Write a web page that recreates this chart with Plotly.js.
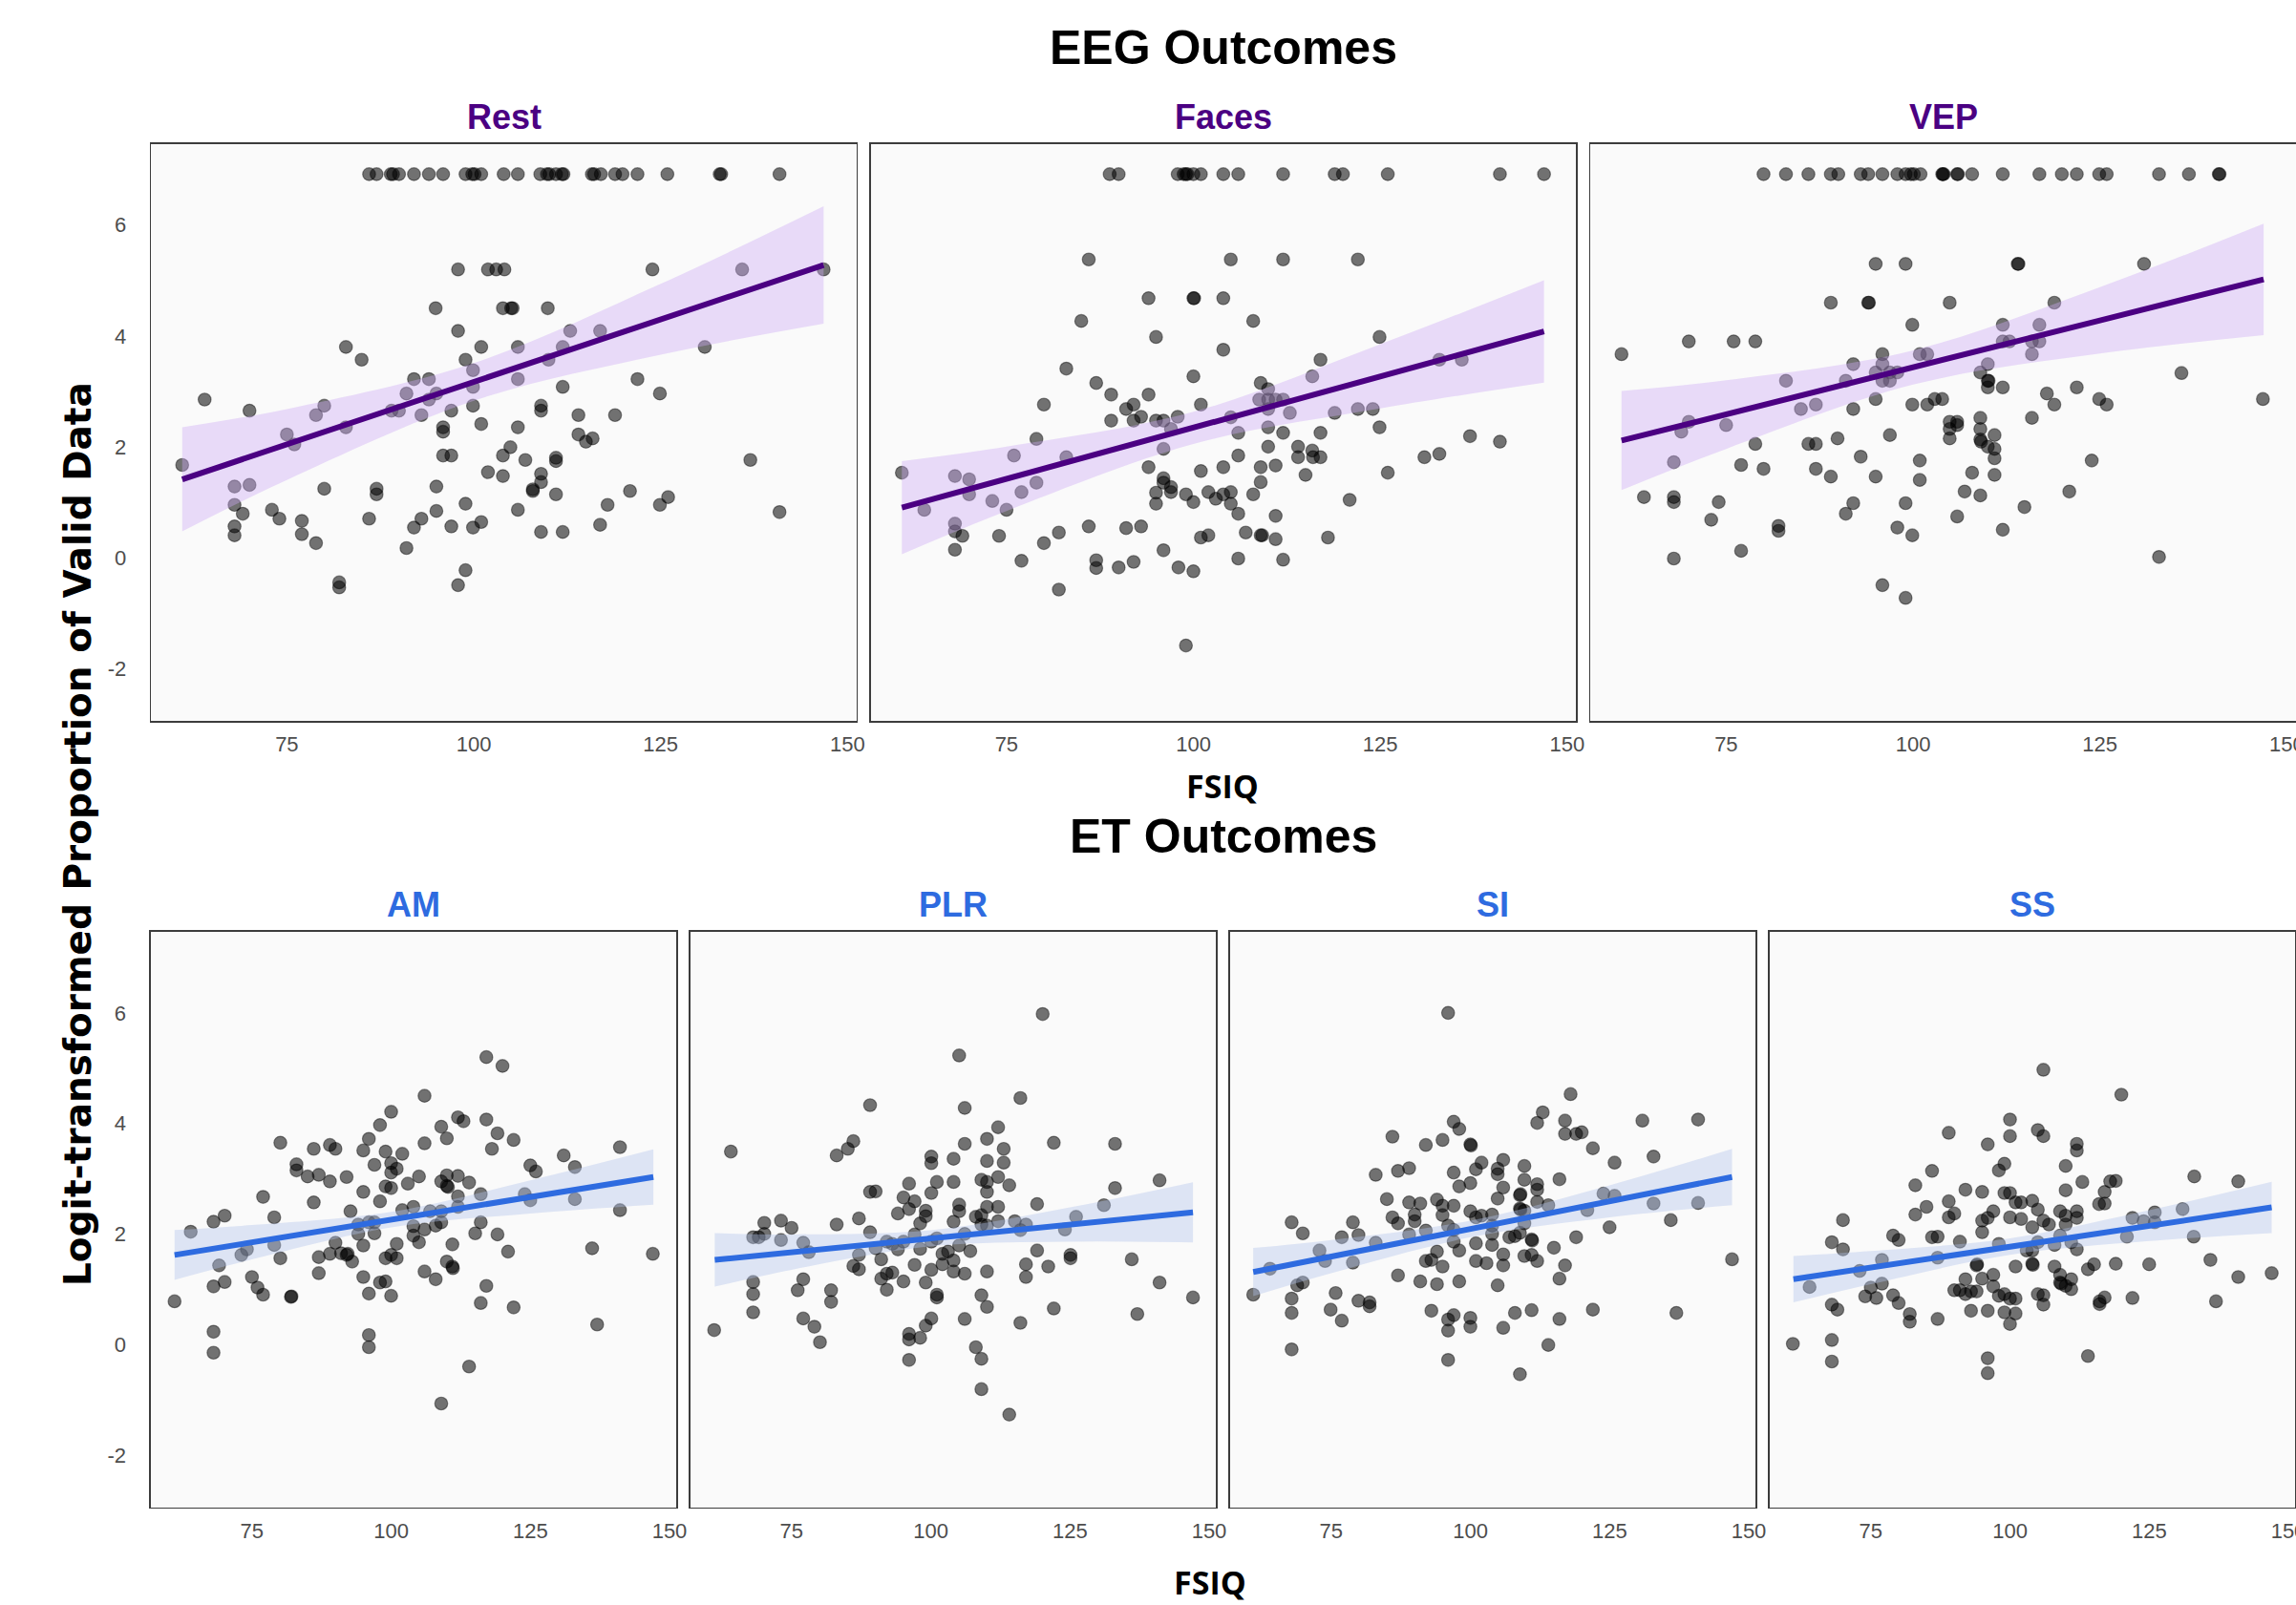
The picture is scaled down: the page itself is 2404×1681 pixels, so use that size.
<!DOCTYPE html>
<html><head><meta charset="utf-8">
<script src="https://cdn.plot.ly/plotly-3.0.1.min.js"></script>
<style>html,body{margin:0;padding:0;background:#fff;} #chart{width:2404px;height:1681px;}</style>
</head><body><div id="chart"></div>
<script>
// ---------------- DATA (FSIQ, logit-transformed proportion of valid data) ----------------
const xTickVals = [75, 100, 125, 150];
const yTickVals = [-2, 0, 2, 4, 6];

const restPts = [[86.0,6.92],[87.0,6.92],[88.9,6.92],[89.2,6.92],[90.0,6.92],[92.0,6.92],[94.0,6.92],[95.9,6.92],[98.9,6.92],[99.8,6.92],[100.1,6.92],[101.0,6.92],[104.0,6.92],[105.9,6.92],[108.9,6.92],[109.8,6.92],[110.1,6.92],[111.0,6.92],[111.8,6.92],[112.0,6.92],[115.8,6.92],[116.1,6.92],[117.0,6.92],[118.9,6.92],[119.9,6.92],[121.9,6.92],[125.9,6.92],[132.9,6.92],[133.1,6.92],[140.9,6.92],
[97.9,5.20],[101.9,5.20],[103.0,5.20],[104.1,5.20],[123.9,5.20],[135.9,5.20],[146.8,5.20],
[94.9,4.50],[103.9,4.50],[105.0,4.50],[105.2,4.50],[109.9,4.50],
[97.9,4.09],[112.9,4.09],[116.9,4.09],
[82.9,3.80],[101.0,3.80],[105.9,3.80],[111.9,3.80],[130.9,3.80],
[85.0,3.57],[98.9,3.57],[110.0,3.57],[99.9,3.38],
[92.0,3.22],[94.0,3.22],[105.9,3.22],[121.9,3.22],
[111.9,3.08],[99.9,3.08],
[91.0,2.96],[95.0,2.96],[124.9,2.96],
[64.0,2.85],[94.0,2.85],
[80.0,2.74],[99.9,2.74],[109.0,2.74],
[70.0,2.65],[89.0,2.65],[90.0,2.65],[97.0,2.65],[109.0,2.65],
[78.9,2.57],[93.0,2.57],[114.0,2.57],[118.9,2.57],
[101.0,2.41],[82.9,2.35],[95.9,2.35],[105.9,2.35],[95.9,2.27],[75.0,2.22],[114.0,2.22],[115.9,2.15],[76.0,2.04],[115.0,2.09],[104.9,1.99],
[95.9,1.84],[97.0,1.84],[103.9,1.84],[111.0,1.80],[111.0,1.74],[106.9,1.76],[137.0,1.76],[61.0,1.67],
[101.9,1.54],[103.9,1.47],[109.0,1.51],[109.0,1.36],
[68.0,1.28],[70.0,1.31],[95.0,1.28],[80.0,1.24],[87.0,1.24],[87.0,1.14],[107.9,1.23],[107.9,1.20],[120.9,1.20],[111.0,1.14],[126.0,1.09],
[124.9,0.95],[68.0,0.95],[98.9,0.97],[117.9,0.95],
[69.1,0.79],[73.0,0.86],[74.0,0.70],[95.0,0.84],[105.9,0.86],[140.9,0.82],
[86.0,0.70],[93.0,0.70],[77.0,0.66],[101.0,0.64],
[68.0,0.56],[92.0,0.54],[97.0,0.56],[99.9,0.54],[116.9,0.59],
[68.0,0.40],[77.0,0.42],[109.0,0.46],[111.9,0.46],
[78.9,0.26],[91.0,0.17],[98.9,-0.23],[82.0,-0.45],[82.0,-0.54],[97.9,-0.50]];

const facesPts = [[88.8,6.92],[90.0,6.92],[97.9,6.92],[98.7,6.92],[99.0,6.92],[99.2,6.92],[100.0,6.92],[101.0,6.92],[104.0,6.92],[106.0,6.92],[112.0,6.92],[118.9,6.92],[120.0,6.92],[126.0,6.92],[141.0,6.92],[146.9,6.92],
[86.0,5.38],[105.0,5.38],[112.0,5.38],[122.0,5.38],
[94.0,4.68],[100.0,4.68],[100.1,4.68],[104.0,4.68],
[85.0,4.27],[108.0,4.27],[95.0,3.98],[124.9,3.98],[104.0,3.75],
[117.0,3.57],[132.9,3.57],[135.9,3.57],[83.0,3.41],[100.0,3.27],[115.9,3.27],
[87.0,3.15],[109.0,3.15],[110.0,3.04],[89.0,2.94],[94.0,2.94],
[108.8,2.85],[110.0,2.85],[111.0,2.85],[112.0,2.85],
[80.0,2.76],[92.0,2.76],[101.0,2.76],
[91.0,2.68],[110.0,2.68],[122.0,2.68],[124.0,2.68],
[112.9,2.61],[118.9,2.61],[93.0,2.54],[105.0,2.53],[97.9,2.54],
[89.0,2.47],[92.0,2.47],[95.0,2.47],[96.0,2.47],
[97.0,2.32],[124.9,2.35],[110.0,2.35],
[106.0,2.25],[112.0,2.25],[117.0,2.25],[137.0,2.19],[79.0,2.14],[141.0,2.09],
[96.0,1.96],[110.0,2.00],[114.0,2.00],[115.9,1.93],
[76.0,1.84],[83.0,1.81],[106.0,1.84],[114.0,1.81],[116.0,1.81],[117.0,1.81],[130.9,1.81],[132.9,1.87],
[94.0,1.63],[104.0,1.63],[109.0,1.63],[111.0,1.66],[101.0,1.56],
[61.0,1.53],[68.1,1.47],[70.0,1.41],[115.0,1.49],[126.0,1.53],
[96.0,1.43],[79.0,1.35],[109.0,1.36],[96.0,1.35],[97.0,1.27],[97.0,1.18],[95.0,1.17],[77.0,1.18],[70.0,1.14],
[99.0,1.14],[104.0,1.14],[105.0,1.18],[108.0,1.14],[103.0,1.06],[102.0,1.18],[120.9,1.04],[73.1,1.02],[100.0,1.00],[95.0,0.97],[105.0,0.97],
[75.0,0.86],[64.0,0.86],[106.0,0.79],[111.0,0.75],
[68.1,0.61],[86.0,0.56],[91.0,0.53],[93.0,0.56],
[68.1,0.47],[69.1,0.39],[74.0,0.39],[82.0,0.45],[107.0,0.45],[109.0,0.40],[109.2,0.40],[101.0,0.36],[102.0,0.40],[111.0,0.33],[118.0,0.36],
[80.0,0.26],[68.1,0.14],[96.0,0.13],
[77.0,-0.06],[87.0,-0.05],[87.0,-0.19],[90.0,-0.18],[92.0,-0.08],[98.0,-0.18],[100.0,-0.25],[106.0,-0.02],[112.0,-0.04],
[82.0,-0.58],[99.0,-1.59]];

const vepPts = [[80.0,6.92],[83.0,6.92],[86.0,6.92],[89.0,6.92],[90.0,6.92],[93.0,6.92],[94.0,6.92],[95.9,6.92],[97.9,6.92],[99.0,6.92],[99.7,6.92],[100.1,6.92],[101.0,6.92],[103.9,6.92],[104.0,6.92],[104.1,6.92],[105.9,6.92],[106.0,6.92],[107.9,6.92],[112.0,6.92],[116.9,6.92],[119.9,6.92],[121.9,6.92],[124.9,6.92],[125.9,6.92],[132.9,6.92],[136.9,6.92],[140.9,6.92],[141.0,6.92],
[95.0,5.30],[99.0,5.30],[114.0,5.30],[114.1,5.30],[130.9,5.30],
[89.0,4.60],[94.0,4.60],[94.1,4.60],[104.9,4.60],[118.9,4.60],
[99.9,4.20],[112.0,4.20],[116.9,4.20],
[70.0,3.90],[76.0,3.90],[78.9,3.90],[112.0,3.90],[112.9,3.90],[115.9,3.90],[116.9,3.90],
[61.0,3.67],[95.9,3.67],[100.9,3.67],[101.9,3.67],[115.9,3.67],
[92.0,3.49],[95.9,3.49],[110.0,3.49],
[95.0,3.34],[96.9,3.34],[97.9,3.34],[109.0,3.34],[135.9,3.33],
[83.0,3.19],[91.0,3.19],[95.9,3.19],[96.9,3.19],[110.0,3.19],[110.1,3.19],
[110.0,3.07],[112.0,3.07],[121.9,3.07],[117.9,2.96],
[95.0,2.86],[102.9,2.86],[103.9,2.86],[124.9,2.86],[146.8,2.86],
[99.9,2.76],[101.9,2.76],[118.9,2.76],[125.9,2.76],[85.0,2.68],[87.0,2.76],[92.0,2.68],
[70.0,2.45],[115.9,2.52],[104.9,2.45],[105.9,2.45],[104.9,2.32],[105.9,2.39],[75.0,2.39],[69.0,2.27],[109.0,2.52],[109.0,2.32],
[104.9,2.15],[96.9,2.21],[89.9,2.15],[109.0,2.13],[109.1,2.09],[110.9,2.21],[110.9,1.96],[110.0,2.00],
[86.0,2.05],[87.0,2.05],[78.9,2.05],
[93.0,1.82],[110.9,1.79],[100.9,1.75],[123.9,1.75],[68.0,1.72],[77.0,1.67],[80.0,1.60],[87.0,1.60],
[107.9,1.53],[110.9,1.49],[89.0,1.46],[95.0,1.46],[100.9,1.40],
[106.9,1.19],[120.9,1.19],[109.0,1.12],
[64.0,1.09],[68.0,1.09],[68.0,1.00],[74.0,1.00],[92.0,0.98],[99.0,0.98],[114.9,0.91],
[91.0,0.79],[105.9,0.74],[73.0,0.68],[82.0,0.57],[82.0,0.48],[97.9,0.54],[112.0,0.50],[99.9,0.40],
[77.0,0.12],[68.0,-0.02],[132.9,0.01],[95.9,-0.50],[99.0,-0.73]];

const amPts = [[117.1,5.20],[120.0,5.04],[106.0,4.50],[100.0,4.21],[98.0,3.97],[112.0,4.11],[113.0,4.04],[117.1,4.07],[109.0,3.94],[119.1,3.82],[110.0,3.73],[96.0,3.72],[122.0,3.70],[80.1,3.65],[106.0,3.64],
[86.1,3.54],[89.0,3.61],[90.0,3.54],[95.0,3.51],[99.0,3.49],[102.0,3.45],[118.1,3.54],[131.0,3.42],[141.1,3.57],
[97.0,3.25],[100.0,3.28],[125.0,3.24],[133.0,3.21],[83.0,3.26],[83.0,3.15],[101.0,3.18],[100.0,3.11],
[85.0,3.04],[87.0,3.07],[92.0,3.03],[105.0,3.04],[110.0,3.06],[112.0,3.05],[126.0,3.13],
[89.0,2.95],[95.0,2.76],[99.0,2.86],[100.0,2.83],[103.0,2.91],[109.0,2.95],[110.0,2.87],[110.2,2.85],[114.0,2.93],
[77.0,2.67],[86.1,2.57],[98.0,2.59],[116.1,2.72],[112.0,2.68],[124.0,2.72],[125.0,2.61],[133.0,2.63],
[92.7,2.41],[102.0,2.43],[104.0,2.49],[107.0,2.41],[109.0,2.41],[112.0,2.49],[141.1,2.43],
[70.1,2.33],[68.1,2.22],[79.0,2.30],[94.1,2.17],[96.0,2.21],[97.0,2.21],[104.0,2.14],[106.0,2.08],[108.0,2.15],[109.0,2.21],[116.1,2.21],
[64.0,2.04],[94.1,2.00],[97.0,2.01],[115.1,2.01],[119.1,1.99],[104.0,1.97],[105.0,1.85],
[90.0,1.84],[95.0,1.79],[101.0,1.82],[111.0,1.81],[79.0,1.80],[74.1,1.72],[73.1,1.62],
[91.0,1.65],[92.0,1.62],[92.2,1.64],[93.0,1.50],[89.0,1.64],[87.0,1.58],[99.0,1.56],[100.0,1.62],[101.0,1.56],[80.1,1.56],[121.0,1.68],[136.1,1.74],[147.0,1.64],
[69.1,1.43],[110.0,1.50],[111.0,1.41],[111.1,1.38],[87.0,1.29],[106.0,1.32],[108.0,1.18],[95.0,1.22],[98.0,1.12],[99.0,1.14],[75.0,1.22],
[70.1,1.13],[68.1,1.05],[76.0,1.03],[77.0,0.90],[82.0,0.86],[82.1,0.87],[96.0,0.92],[100.0,0.88],[117.1,1.06],[116.1,0.75],[122.0,0.67],[61.1,0.78],
[137.0,0.36],[68.1,0.23],[68.1,-0.15],[96.0,0.17],[96.0,-0.05],[114.0,-0.40],[109.0,-1.07]];

const plrPts = [[120.1,5.98],[105.1,5.23],[116.1,4.46],[89.1,4.33],[106.1,4.28],[112.1,3.93],[110.1,3.72],[113.1,3.54],[86.1,3.68],[85.1,3.54],[83.1,3.42],[64.1,3.49],[106.1,3.63],[122.1,3.65],[133.1,3.63],
[100.1,3.40],[100.1,3.28],[104.1,3.36],[110.1,3.32],[113.1,3.29],
[96.1,2.91],[101.1,2.94],[104.1,2.94],[109.1,2.98],[110.1,2.94],[112.1,3.03],[114.1,2.88],[133.1,2.83],[141.1,2.97],
[89.1,2.76],[90.1,2.77],[100.1,2.74],[110.1,2.76],[95.1,2.66],[97.1,2.59],[96.1,2.45],[99.1,2.42],[99.1,2.32],[94.1,2.37],
[105.1,2.53],[105.1,2.41],[110.1,2.49],[112.1,2.49],[119.1,2.54],[131.1,2.52],
[87.1,2.28],[98.1,2.19],[104.1,2.22],[108.1,2.31],[109.1,2.34],[126.1,2.31],
[70.1,2.20],[73.1,2.24],[75.0,2.11],[83.1,2.17],[89.1,2.03],[109.1,2.17],[110.1,2.15],[112.1,2.23],[115.1,2.23],[117.1,2.17],[116.1,2.07],[124.1,2.08],
[68.1,1.94],[69.1,1.94],[70.1,2.00],[73.1,1.89],[77.1,1.84],[92.1,1.86],[93.1,1.82],[95.1,1.86],[97.1,1.99],[101.1,1.92],[100.1,1.86],[106.1,2.00],
[78.1,1.67],[87.1,1.62],[90.1,1.74],[94.1,1.72],[98.1,1.73],[102.1,1.64],[105.1,1.79],[107.1,1.69],[103.1,1.68],[119.1,1.70],[125.1,1.62],[125.1,1.56],
[91.1,1.54],[102.1,1.45],[104.1,1.52],[97.1,1.44],[86.1,1.42],[87.1,1.36],[100.1,1.35],[104.1,1.32],[106.1,1.28],[110.1,1.32],[117.1,1.45],[121.1,1.41],[136.1,1.54],
[91.1,1.19],[92.1,1.28],[93.1,1.30],[117.1,1.22],[68.1,1.13],[77.1,1.18],[95.1,1.14],[99.1,1.12],
[92.1,0.99],[68.1,0.91],[76.1,0.98],[82.1,0.98],[82.1,0.77],[101.1,0.90],[101.1,0.85],[109.1,0.89],[110.1,0.68],[122.1,0.65],[141.1,1.12],[147.1,0.85],
[68.1,0.58],[137.1,0.55],[116.1,0.39],[61.1,0.26],[77.1,0.47],[79.1,0.32],[80.1,0.04],[100.1,0.47],[99.1,0.34],[106.1,0.46],
[96.1,0.19],[96.1,0.09],[98.1,0.12],[96.1,-0.28],[108.1,-0.05],[109.1,-0.26],[109.1,-0.81],[114.1,-1.27]];

const siPts = [[96.0,6.00],[118.0,4.53],[113.0,4.20],[112.0,4.01],[117.0,4.05],[117.0,3.81],[119.0,3.81],[120.0,3.84],[130.9,4.05],[140.9,4.07],[97.0,4.03],[98.0,3.90],[86.0,3.76],[92.0,3.61],[95.0,3.70],[100.0,3.62],[100.1,3.60],[122.0,3.55],[132.9,3.40],
[102.0,3.29],[105.9,3.34],[101.0,3.17],[104.9,3.18],[104.9,3.08],[109.7,3.23],[125.9,3.29],[83.0,3.07],[87.0,3.14],[89.0,3.19],[97.0,3.11],
[109.7,2.98],[116.0,2.99],[98.0,2.86],[100.0,2.92],[105.9,2.84],[112.0,2.90],[112.0,2.80],
[85.0,2.63],[89.0,2.57],[91.0,2.55],[94.0,2.62],[95.0,2.51],[104.9,2.64],[108.9,2.70],[109.0,2.72],[97.0,2.51],[114.0,2.52],[123.9,2.73],[125.9,2.69],
[108.9,2.46],[109.0,2.44],[100.0,2.41],[102.0,2.33],[103.9,2.35],[109.7,2.42],[112.0,2.58],[121.0,2.43],[132.9,2.55],[140.9,2.56],
[86.0,2.30],[87.0,2.19],[90.0,2.35],[90.0,2.23],[95.0,2.34],[96.0,2.15],[97.0,2.07],[101.0,2.30],[103.9,2.15],[109.7,2.19],[125.0,2.12],[136.0,2.25],
[89.0,1.99],[92.0,2.06],[103.9,2.00],[108.9,2.02],[107.0,1.94],[108.0,1.96],[111.0,1.90],[111.1,1.88],[119.0,1.94],
[67.9,2.21],[69.9,2.01],[78.9,2.21],[76.9,1.94],[79.9,1.98],[83.0,1.84],[97.0,1.86],[101.0,1.83],[103.9,1.80],[115.0,1.75],
[72.9,1.70],[73.9,1.51],[78.9,1.48],[94.0,1.68],[98.0,1.70],[105.9,1.63],[109.7,1.60],[111.0,1.62],[112.0,1.51],[117.0,1.43],
[92.0,1.51],[93.0,1.53],[95.0,1.41],[101.0,1.51],[102.9,1.47],[105.9,1.43],[147.0,1.54],
[64.0,1.37],[87.0,1.25],[91.0,1.14],[94.0,1.09],[98.0,1.14],[104.9,1.07],[116.0,1.19],[68.9,1.07],[69.9,1.12],
[67.9,0.83],[67.9,0.57],[61.0,0.90],[75.8,0.93],[74.9,0.63],[76.9,0.43],[79.9,0.79],[81.9,0.76],[81.9,0.69],
[93.0,0.61],[96.0,0.45],[97.0,0.53],[100.0,0.48],[100.0,0.32],[96.0,0.25],[105.9,0.30],[108.0,0.57],[111.0,0.62],[116.0,0.46],[122.0,0.63],[137.0,0.57],
[114.0,-0.01],[67.9,-0.09],[96.0,-0.28],[108.9,-0.54]];

const ssPts = [[106.0,4.97],[120.0,4.52],[100.0,4.07],[105.0,3.88],[106.0,3.77],[100.0,3.77],[89.0,3.83],[96.0,3.62],[112.0,3.63],[112.0,3.51],
[99.0,3.27],[98.0,3.15],[110.0,3.23],[86.0,3.14],[133.1,3.04],[141.0,2.95],[118.0,2.95],[119.0,2.96],[113.0,2.94],
[83.0,2.88],[92.0,2.80],[95.0,2.76],[99.0,2.74],[100.0,2.74],[110.0,2.79],[117.0,2.76],
[101.0,2.57],[102.0,2.57],[104.0,2.60],[116.0,2.54],[117.0,2.55],[89.0,2.59],[85.0,2.49],[83.0,2.35],[90.0,2.37],[89.0,2.30],
[97.0,2.41],[96.0,2.29],[95.0,2.24],[100.0,2.30],[102.0,2.27],[105.0,2.44],[109.0,2.41],[110.0,2.33],[112.0,2.41],[112.0,2.29],
[106.0,2.24],[107.0,2.17],[110.0,2.17],[104.0,2.12],[122.0,2.29],[124.0,2.23],[126.0,2.39],[126.0,2.21],[131.0,2.45],
[70.0,2.25],[79.0,1.97],[80.0,1.89],[86.0,1.94],[87.0,1.95],[95.0,2.03],[91.0,1.86],[109.0,1.97],[111.0,1.85],[121.0,1.95],[133.0,1.95],
[68.0,1.85],[70.0,1.72],[98.0,1.82],[105.0,1.85],[108.0,1.80],[103.0,1.70],[104.0,1.70],[112.0,1.72],
[77.0,1.53],[87.0,1.57],[73.0,1.33],[136.0,1.53],[94.0,1.43],[94.1,1.45],[104.0,1.46],[104.1,1.44],[101.0,1.41],[108.0,1.41],[114.0,1.36],[115.1,1.45],[119.0,1.46],[125.0,1.45],[141.0,1.22],[147.0,1.29],
[95.0,1.19],[97.0,1.26],[92.0,1.18],[109.0,1.26],[111.0,1.18],[109.0,1.12],[109.2,1.10],[110.0,1.06],
[64.0,1.04],[75.0,1.03],[77.0,1.10],[74.0,0.87],[76.0,0.84],[79.0,0.89],
[90.0,0.98],[91.0,0.98],[93.0,0.96],[92.0,0.91],[94.0,0.96],[97.0,1.05],[98.0,0.88],[99.0,0.91],[100.0,0.83],[101.0,0.83],[105.0,0.91],[106.0,0.89],[106.0,0.72],[111.0,1.00],
[116.1,0.78],[116.1,0.73],[117.0,0.85],[122.0,0.84],[137.0,0.78],
[68.0,0.72],[69.0,0.63],[80.0,0.75],[82.0,0.55],[82.0,0.41],[87.0,0.46],[93.0,0.61],[96.0,0.61],[99.0,0.58],[101.0,0.56],[100.0,0.37],
[61.0,0.01],[68.0,0.08],[68.0,-0.31],[96.0,-0.25],[96.0,-0.52],[114.0,-0.21]];

// Linear fits: x positions, fitted value, CI half-width
const restFitX  = [61.0, 75, 100, 125, 146.8];
const restFitY  = [1.41, 2.04, 3.17, 4.30, 5.28];
const restFitHW = [0.94, 0.64, 0.34, 0.64, 1.06];
const facesFitX  = [61.0, 75, 100, 125, 146.9];
const facesFitY  = [0.90, 1.42, 2.34, 3.27, 4.08];
const facesFitHW = [0.84, 0.58, 0.29, 0.58, 0.925];
const vepFitX  = [61.0, 75, 100, 125, 146.9];
const vepFitY  = [2.11, 2.58, 3.43, 4.28, 5.02];
const vepFitHW = [0.895, 0.62, 0.31, 0.60, 1.005];
const amFitX  = [61.1, 75, 100, 125, 147.1];
const amFitY  = [1.62, 1.85, 2.26, 2.67, 3.03];
const amFitHW = [0.45, 0.31, 0.14, 0.30, 0.50];
const plrFitX  = [61.2, 75, 100, 125, 147.1];
const plrFitY  = [1.53, 1.67, 1.92, 2.17, 2.39];
const plrFitHW = [0.485, 0.32, 0.145, 0.31, 0.545];
const siFitX  = [61.0, 75, 100, 125, 147.0];
const siFitY  = [1.31, 1.59, 2.09, 2.59, 3.03];
const siFitHW = [0.435, 0.30, 0.15, 0.29, 0.51];
const ssFitX  = [61.1, 75, 100, 125, 147.0];
const ssFitY  = [1.18, 1.39, 1.77, 2.15, 2.48];
const ssFitHW = [0.42, 0.30, 0.15, 0.28, 0.465];

// ---------------- LAYOUT / STYLE ----------------
const W = 2404, H = 1681;
const EEG = {line:'#4B0082', fill:'rgba(205,170,245,0.40)', title:'#4B0082'};
const ET  = {line:'#2E6BE0', fill:'rgba(177,195,235,0.40)', title:'#2E6BE0'};
const panels = [
  {title:'Rest',  pts:restPts,  fx:restFitX,  fy:restFitY,  hw:restFitHW,  c:EEG, px:[158.3,896.8],  py:[150.5,755], yl:true},
  {title:'Faces', pts:facesPts, fx:facesFitX, fy:facesFitY, hw:facesFitHW, c:EEG, px:[911.8,1650.3], py:[150.5,755], yl:false},
  {title:'VEP',   pts:vepPts,   fx:vepFitX,   fy:vepFitY,   hw:vepFitHW,   c:EEG, px:[1665.3,2403.8],py:[150.5,755], yl:false},
  {title:'AM',    pts:amPts,    fx:amFitX,    fy:amFitY,    hw:amFitHW,    c:ET,  px:[158,708],     py:[975.8,1578.8], yl:true},
  {title:'PLR',   pts:plrPts,   fx:plrFitX,   fy:plrFitY,   hw:plrFitHW,   c:ET,  px:[723,1273],    py:[975.8,1578.8], yl:false},
  {title:'SI',    pts:siPts,    fx:siFitX,    fy:siFitY,    hw:siFitHW,    c:ET,  px:[1288,1838],   py:[975.8,1578.8], yl:false},
  {title:'SS',    pts:ssPts,    fx:ssFitX,    fy:ssFitY,    hw:ssFitHW,    c:ET,  px:[1853,2403],   py:[975.8,1578.8], yl:false}
];

const tickFont = {family:'Liberation Sans, Arial, sans-serif', size:22, color:'#4d4d4d'};
const traces = [];
const layout = {
  width:W, height:H, margin:{l:0,r:0,t:0,b:0},
  paper_bgcolor:'#ffffff', plot_bgcolor:'#fafafa', showlegend:false,
  annotations:[]
};
const px2x = p => p / W, px2y = p => 1 - p / H;

panels.forEach((p, i) => {
  const n = i + 1, sfx = n === 1 ? '' : String(n);
  const xa = 'x' + sfx, ya = 'y' + sfx;
  traces.push({type:'scatter', mode:'markers', x:p.pts.map(d=>d[0]), y:p.pts.map(d=>d[1]),
    xaxis:xa, yaxis:ya, hoverinfo:'skip',
    marker:{size:13.5, color:'rgba(0,0,0,0.55)', line:{color:'rgba(0,0,0,0.42)', width:1.2}}});
  const lo = p.fy.map((v,k)=>v - p.hw[k]);
  const hi = p.fy.map((v,k)=>v + p.hw[k]);
  traces.push({type:'scatter', mode:'lines', x:p.fx, y:lo, xaxis:xa, yaxis:ya, hoverinfo:'skip',
    line:{width:0, shape:'spline', color:'rgba(0,0,0,0)'}});
  traces.push({type:'scatter', mode:'lines', x:p.fx, y:hi, xaxis:xa, yaxis:ya, hoverinfo:'skip',
    fill:'tonexty', fillcolor:p.c.fill, line:{width:0, shape:'spline', color:'rgba(0,0,0,0)'}});
  traces.push({type:'scatter', mode:'lines', x:p.fx, y:p.fy, xaxis:xa, yaxis:ya, hoverinfo:'skip',
    line:{width:6, color:p.c.line}});
  const axCommon = {showline:true, mirror:true, linecolor:'#3c3c3c', linewidth:1.6,
    showgrid:false, zeroline:false, ticks:'outside', tickcolor:'rgba(0,0,0,0)', tickfont:tickFont,
    fixedrange:true, ticklabeloverflow:'allow'};
  layout['xaxis'+sfx] = Object.assign({}, axCommon, {
    domain:[px2x(p.px[0]), px2x(p.px[1])], range:[56.85, 151.2], anchor:ya,
    tickmode:'array', tickvals:xTickVals, ticktext:xTickVals.map(String), ticklen:4});
  layout['yaxis'+sfx] = Object.assign({}, axCommon, {
    domain:[px2y(p.py[1]), px2y(p.py[0])], range:[-2.95, 7.47], anchor:xa,
    tickmode:'array', tickvals:yTickVals, ticktext:yTickVals.map(String), ticklen:20,
    showticklabels:p.yl});
  layout.annotations.push({xref:'paper', yref:'paper', x:px2x((p.px[0]+p.px[1])/2),
    y:px2y(p.py[0] - 28), xanchor:'center', yanchor:'middle', showarrow:false,
    text:'<b>'+p.title+'</b>', font:{family:'Liberation Sans, Arial, sans-serif', size:36, color:p.c.title}});
});

const txt = (t, xpx, ypx, font, extra) => Object.assign({xref:'paper', yref:'paper', x:px2x(xpx), y:px2y(ypx),
  xanchor:'center', yanchor:'middle', showarrow:false, text:t, font:font}, extra || {});
const headFont = {family:'Liberation Sans, Arial, sans-serif', size:50, color:'#000'};
const fsiqFont = {family:'Open Sans, Noto Sans, sans-serif', size:34, color:'#000'};
layout.annotations.push(txt('<b>EEG Outcomes</b>', 1281, 50, headFont));
layout.annotations.push(txt('<b>ET Outcomes</b>', 1281, 876, headFont));
layout.annotations.push(txt('<b>FSIQ</b>', 1280, 823, fsiqFont));
layout.annotations.push(txt('<b>FSIQ</b>', 1267, 1657, fsiqFont));
layout.annotations.push(txt('<b>Logit-transformed Proportion of Valid Data</b>', 81, 874,
  {family:'DejaVu Sans, Verdana, sans-serif', size:39, color:'#000'}, {textangle:-90}));

Plotly.newPlot('chart', traces, layout, {displayModeBar:false, staticPlot:true});
</script></body></html>
